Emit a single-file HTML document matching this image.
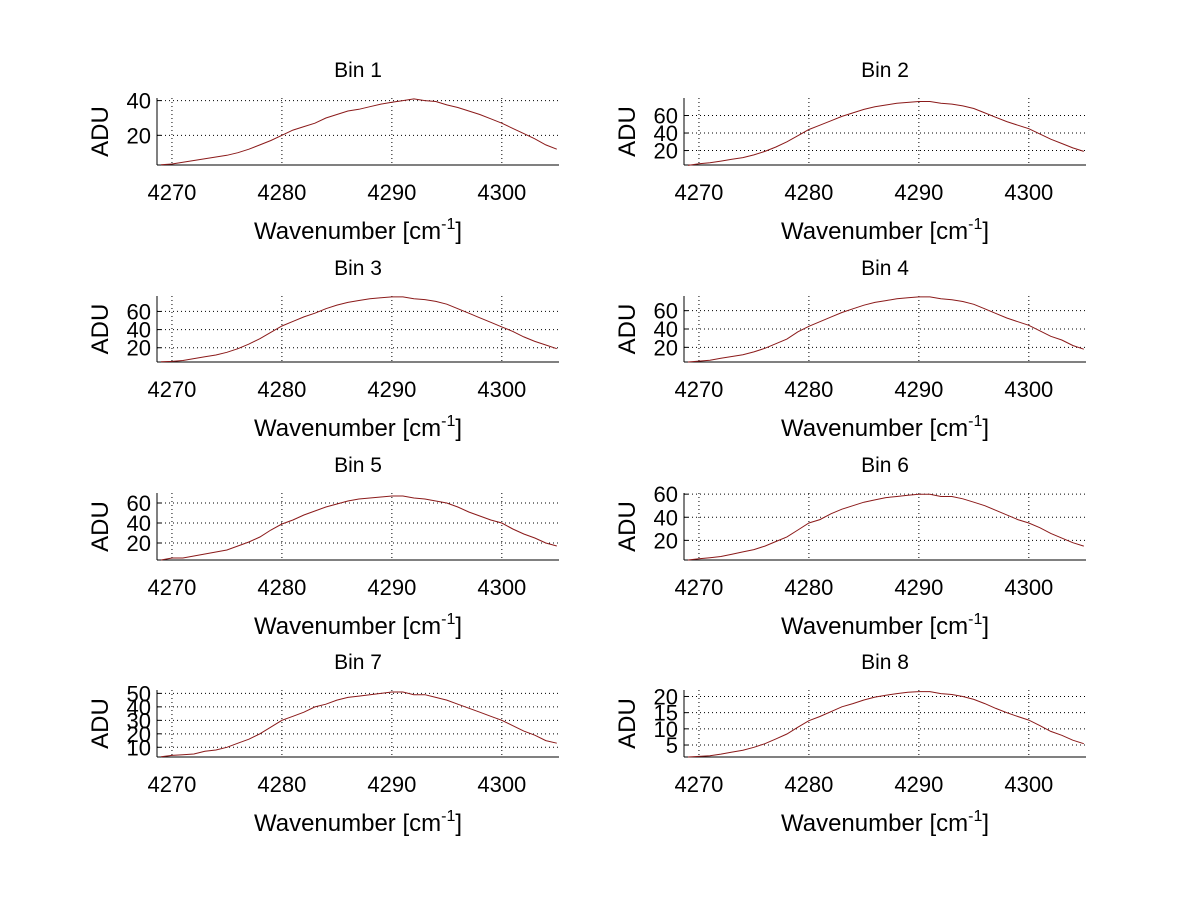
<!DOCTYPE html>
<html><head><meta charset="utf-8"><style>
body{margin:0;background:#fff;}
svg text{font-family:"Liberation Sans",sans-serif;fill:#000;}
</style></head><body>
<svg id="fig" width="1200" height="901" viewBox="0 0 1200 901" xmlns="http://www.w3.org/2000/svg"></svg>
<script>
const wavenumbers=[4269,4270,4271,4272,4273,4274,4275,4276,4277,4278,4279,4280,4281,4282,4283,4284,4285,4286,4287,4288,4289,4290,4291,4292,4293,4294,4295,4296,4297,4298,4299,4300,4301,4302,4303,4304,4305];
const bin1=[3,3.5,4.5,5.5,6.5,7.5,8.5,10,12,14.5,17,20,23,25,27,30,32,34,35,36.5,38,39,40,41,40,39.5,37.5,36,34,32,29.5,27,24,21,18,14.5,12];
const bin2=[3,5,6,8,10,12,15,19,24,30,37,44,49,54,59,63,67,70,72,74,75,76,76,74,73,71,68,63,58,53,49,45,39,33,28,23,19];
const bin3=[4.5,5,6,8,10,12,15,19,24,30,37,44,49,54,58,63,67,70,72,74,75,76,76,74,73,71,68,63,58,53,48,43,38,32,27,23,19];
const bin4=[4,5,6,8,10,12,15,19,24,29,37,43,48,53,58,62,66,69,71,73,74,75,75,73,72,70,67,62,57,52,48,44,38,32,28,22,18];
const bin5=[3,5,5,7,9,11,13,17,21,26,33,39,43,48,52,56,59,62,64,65,66,67,67,65,64,62,60,56,51,47,43,40,34,29,25,20,17];
const bin6=[3,4,5,6,8,10,12,15,19,23,29,35,38,43,47,50,53,55,57,58,59,60,60,58,58,56,53,50,46,42,38,35,31,26,22,18,15];
const bin7=[3,4,4.5,5,7,8,10,13,16,20,25,30,33,36,40,42,45,47,48,49,50,51,51,49,49,47,45,42,39,36,33,30,26,22,19,15,13];
const bin8=[1.3,1.5,1.7,2.2,2.8,3.4,4.3,5.4,6.9,8.4,10.5,12.5,13.8,15.3,16.8,17.8,18.9,19.8,20.4,20.9,21.3,21.5,21.5,20.9,20.6,20,19.1,17.8,16.3,15,13.8,12.7,11,9.2,8,6.5,5.4];
const series=[bin1,bin2,bin3,bin4,bin5,bin6,bin7,bin8];
const ylims=[[2.9,41.5],[3.5,80],[4.3,77],[4,76],[3,70],[3,61],[2.8,52.5],[1.3,22]];
const yticks=[[20,40],[20,40,60],[20,40,60],[20,40,60],[20,40,60],[20,40,60],[10,20,30,40,50],[5,10,15,20]];
const xticks=[4270,4280,4290,4300];
const xlim=[4268.64,4305.2];

const NS="http://www.w3.org/2000/svg";
const svg=document.getElementById('fig');
function mk(tag,attrs,parent,text){const e=document.createElementNS(NS,tag);for(const k in attrs)e.setAttribute(k,attrs[k]);if(text!==undefined)e.textContent=text;(parent||svg).appendChild(e);return e;}
const cols=[[157,559],[684,1086]];
const rows=[[98,165],[296,362],[493,560],[690,757]];
for(let i=0;i<8;i++){
  const c=cols[i%2], r=rows[Math.floor(i/2)];
  const g=mk('g',{});
  
  
  const xs=v=>c[0]+(v-xlim[0])/(xlim[1]-xlim[0])*(c[1]-c[0]);
  const ys=v=>r[1]-(v-ylims[i][0])/(ylims[i][1]-ylims[i][0])*(r[1]-r[0]);
  xticks.forEach(t=>{
    const gl=mk('line',{x1:xs(t),x2:xs(t),y1:r[0],y2:r[1],stroke:'#000','stroke-width':1,'stroke-dasharray':'1,3'},g);
    
    
    const tl=mk('text',{x:xs(t),y:r[1]+35,'font-size':22,'text-anchor':'middle'},g,String(t));
    
    
  });
  yticks[i].forEach(t=>{
    const gl=mk('line',{x1:c[0],x2:c[1],y1:ys(t),y2:ys(t),stroke:'#000','stroke-width':1,'stroke-dasharray':'1,3'},g);
    
    
    mk('line',{x1:c[0],x2:c[0]+4,y1:ys(t),y2:ys(t),stroke:'#000'},g);
    const tl=mk('text',{x:c[0]-6,y:ys(t)+8,'font-size':22,'text-anchor':'end'},g,String(t));
    
    
  });
  mk('line',{x1:c[0],x2:c[1],y1:r[1],y2:r[1],stroke:'#000'},g);
  mk('line',{x1:c[0],x2:c[0],y1:r[0],y2:r[1],stroke:'#000'},g);
  const pts=wavenumbers.map((w,k)=>xs(w).toFixed(1)+','+ys(series[i][k]).toFixed(1)).join(' ');
  const pl=mk('polyline',{points:pts,fill:'none',stroke:'#8b1a1a','stroke-width':1},g);
  
  
  const cx=(c[0]+c[1])/2;
  const ti=mk('text',{x:cx,y:r[0]-21,'font-size':21,'text-anchor':'middle'},g,'Bin '+(i+1));
  
  
  const xl=mk('text',{x:cx,y:r[1]+74,'font-size':24,'text-anchor':'middle'},g);
  
  
  xl.appendChild(document.createTextNode('Wavenumber [cm'));
  mk('tspan',{dy:-10,'font-size':16},xl,'-1');
  mk('tspan',{dy:10},xl,']');
  const yl=mk('text',{x:0,y:0,'font-size':24,'text-anchor':'middle',transform:'translate('+(c[0]-49)+','+((r[0]+r[1])/2)+') rotate(-90)'},g,'ADU');
  
  
}
</script>
</body></html>
